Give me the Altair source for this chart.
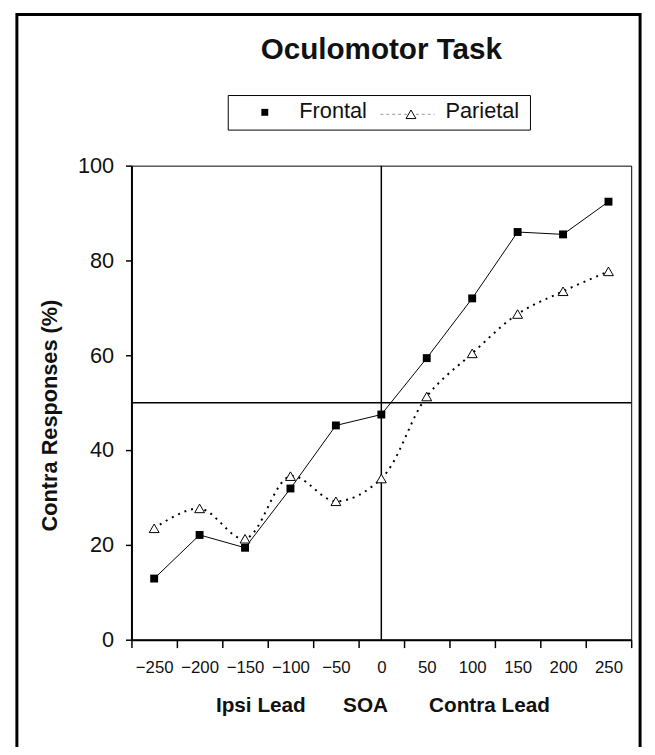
import altair as alt
import pandas as pd

# ---- data ----
soa = [-250, -200, -150, -100, -50, 0, 50, 100, 150, 200, 250]
frontal = [12.9, 22.1, 19.4, 31.9, 45.2, 47.5, 59.4, 72.0, 86.0, 85.5, 92.4]
parietal = [23.5, 27.7, 21.3, 34.5, 29.2, 34.0, 51.3, 60.4, 68.7, 73.5, 77.7]
y_ticks = [0, 20, 40, 60, 80, 100]
center_soa = [0]
center_value = [50]

title_text = "Oculomotor Task"
y_title = "Contra Responses (%)"
x_titles = ["Ipsi Lead", "SOA", "Contra Lead"]
series_names = ["Frontal", "Parietal"]

FONT = "Liberation Sans"
W, H = 506, 480

df_f = pd.DataFrame({"SOA": soa, "value": frontal})
df_p = pd.DataFrame({"SOA": soa, "value": parietal})
df_v = pd.DataFrame({"SOA": center_soa})
df_h = pd.DataFrame({"value": center_value})
one = alt.Data(values=[{}])

x_enc = alt.X(
    "SOA:O",
    sort=soa,
    scale=alt.Scale(type="band", domain=soa, paddingInner=0, paddingOuter=0),
    axis=alt.Axis(
        title=None, labelAngle=0, tickBand="extent", orient="bottom",
        labelExpr="replace(datum.label, '-', '\u2212')",
        labelFontSize=17, labelPadding=12, tickSize=8, tickWidth=1.5,
        labelFont=FONT, labelColor="#111", labelFontWeight="normal",
    ),
)
y_enc = alt.Y(
    "value:Q",
    scale=alt.Scale(domain=[0, 100], nice=False, zero=True),
    axis=alt.Axis(
        title=None, values=y_ticks, labelFontSize=22, labelPadding=12, orient="left",
        tickSize=6, tickWidth=1.5, labelFont=FONT, labelColor="#111", grid=False,
    ),
)

frame = alt.Chart(one).mark_rect(fillOpacity=0, stroke="black", strokeWidth=3).encode(
    x=alt.value(-116), x2=alt.value(515), y=alt.value(-153), y2=alt.value(620)
)

hrule = alt.Chart(df_h).mark_rule(color="black", strokeWidth=1.5).encode(y=y_enc)
vrule = alt.Chart(df_v).mark_rule(color="black", strokeWidth=1.5).encode(x=x_enc)

f_line = alt.Chart(df_f).mark_line(color="black", strokeWidth=1).encode(x=x_enc, y=y_enc)
f_pts = alt.Chart(df_f).mark_point(
    shape="square", filled=True, color="black", size=64, opacity=1
).encode(x=x_enc, y=y_enc)

p_line = alt.Chart(df_p).mark_line(
    color="black", strokeWidth=2, strokeDash=[2, 5], interpolate="catmull-rom"
).encode(x=x_enc, y=y_enc)
p_pts = alt.Chart(df_p).mark_point(
    shape="triangle-up", filled=True, fill="white", stroke="black",
    strokeWidth=1, size=100, opacity=1
).encode(x=x_enc, y=y_enc)

title = alt.Chart(one).mark_text(
    text=title_text, font=FONT, fontSize=30, fontWeight="bold",
    align="center", baseline="alphabetic", color="#111"
).encode(x=alt.value(253), y=alt.value(-108))

leg_box = alt.Chart(one).mark_rect(fill="white", stroke="black", strokeWidth=1).encode(
    x=alt.value(98), x2=alt.value(404), y=alt.value(-71), y2=alt.value(-36)
)
leg_f = alt.Chart(one).mark_point(
    shape="square", filled=True, color="black", size=49, opacity=1
).encode(x=alt.value(135), y=alt.value(-54))
leg_f_txt = alt.Chart(one).mark_text(
    text=series_names[0], font=FONT, fontSize=22, align="left", baseline="alphabetic", color="#111"
).encode(x=alt.value(170), y=alt.value(-48))
leg_p_line = alt.Chart(one).mark_rule(color="#999", strokeWidth=1, strokeDash=[3, 3]).encode(
    x=alt.value(252), x2=alt.value(307), y=alt.value(-52)
)
leg_p = alt.Chart(one).mark_point(
    shape="triangle-up", filled=True, fill="white", stroke="black",
    strokeWidth=1, size=100, opacity=1
).encode(x=alt.value(283), y=alt.value(-52))
leg_p_txt = alt.Chart(one).mark_text(
    text=series_names[1], font=FONT, fontSize=22, align="left", baseline="alphabetic", color="#111"
).encode(x=alt.value(318), y=alt.value(-48))

xt_pos = [131, 237, 362.5]
xt = [
    alt.Chart(one).mark_text(
        text=t, font=FONT, fontSize=21, fontWeight="bold",
        align="center", baseline="alphabetic", color="#111"
    ).encode(x=alt.value(px), y=alt.value(553))
    for t, px in zip(x_titles, xt_pos)
]

ytitle = alt.Chart(one).mark_text(
    text=y_title, font=FONT, fontSize=22, fontWeight="bold", angle=270,
    align="center", baseline="middle", color="#111"
).encode(x=alt.value(-82), y=alt.value(253))

chart = alt.layer(
    frame, hrule, vrule, f_line, p_line, f_pts, p_pts,
    title, leg_box, leg_f, leg_f_txt, leg_p_line, leg_p, leg_p_txt, *xt, ytitle
).properties(
    width=W, height=H,
    autosize=alt.AutoSizeParams(type="none"),
    padding={"left": 125, "top": 155, "right": 16, "bottom": 104},
).configure_view(
    stroke="black", strokeWidth=1
).configure_axis(
    domainColor="black", domainWidth=2, tickColor="black", grid=False
)

chart.save("out.html", embed_options={"renderer": "svg", "actions": False})
